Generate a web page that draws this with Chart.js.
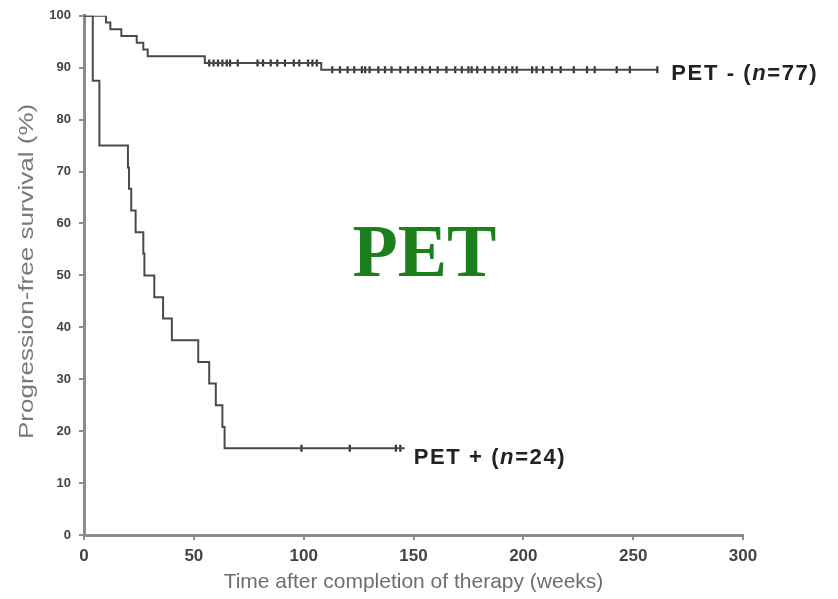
<!DOCTYPE html>
<html>
<head>
<meta charset="utf-8">
<script src="https://cdn.jsdelivr.net/npm/chart.js@4/dist/chart.umd.min.js"></script>
<style>
  html, body { margin: 0; padding: 0; background: #ffffff; }
  canvas { display: block; }
</style>
</head>
<body>
<canvas id="c" width="838" height="599"></canvas>
<script>
// ---- Data ----
const xTickValues = [0, 50, 100, 150, 200, 250, 300];
const yTickValues = [0, 10, 20, 30, 40, 50, 60, 70, 80, 90, 100];

// PET- (n=77): event times (weeks) and survival (%)
const petNegTimes = [0, 10, 12, 17, 24, 27, 29, 55, 108, 261];
const petNegSurv  = [100, 98.7, 97.4, 96.1, 94.8, 93.5, 92.2, 90.9, 89.6, 89.6];
const petNegCensor = [57, 59, 61, 63, 65, 66.5, 70, 79, 81.5, 85, 88, 91.5, 95.5, 98, 102, 104, 106,
  113, 116.5, 120, 123, 126.5, 128, 130, 134, 137, 140, 144, 147.5, 151, 154, 157.5, 161, 165, 169,
  172, 175, 176.5, 179, 182.5, 186, 189, 192, 195, 197, 204, 206, 209, 213, 217, 223, 229, 232.5,
  242.5, 248.5, 261];

// PET+ (n=24)
const petPosTimes = [0, 4, 7, 20, 20.5, 21.5, 23.5, 27, 27.5, 32, 36, 40, 52, 57, 60, 63, 64, 146];
const petPosSurv  = [100, 87.5, 75, 70.8, 66.7, 62.5, 58.3, 54.2, 50, 45.8, 41.7, 37.5, 33.3, 29.2, 25, 20.8, 16.7, 16.7];
const petPosCensor = [99, 121, 142, 144];

const seriesLabels = ['PET - (', 'n', '=77)'];
const seriesLabels2 = ['PET + (', 'n', '=24)'];
const centerText = 'PET';

// ---- helpers ----
function survAt(times, surv, t) {
  let v = surv[0];
  for (let i = 0; i < times.length; i++) if (times[i] <= t) v = surv[i];
  return v;
}
const toPts = (ts, ss) => ts.map((t, i) => ({ x: t, y: ss[i] }));
const censorPts = (cs, ts, ss) => cs.map(t => ({ x: t, y: survAt(ts, ss, t) }));

const lineColor = '#4a4a4a';
const axisColor = '#8c8c8c';

function drawRich(ctx, parts, x, y) {
  ctx.save();
  ctx.fillStyle = '#222';
  ctx.textBaseline = 'middle';
  ctx.textAlign = 'left';
  try { ctx.letterSpacing = '1.6px'; } catch (e) {}
  let cx = x;
  parts.forEach((p, i) => {
    ctx.font = (i === 1 ? 'italic bold ' : 'bold ') + '22px "Liberation Sans", Arial, sans-serif';
    ctx.fillText(p, cx, y);
    cx += ctx.measureText(p).width;
  });
  ctx.restore();
}

const labelPlugin = {
  id: 'labels',
  afterDraw(chart) {
    const { ctx, scales: { x, y } } = chart;
    const negEnd = petNegTimes[petNegTimes.length - 1];
    const negLvl = petNegSurv[petNegSurv.length - 1];
    drawRich(ctx, seriesLabels, x.getPixelForValue(negEnd) + 14, y.getPixelForValue(negLvl) + 4);
    const posEnd = petPosTimes[petPosTimes.length - 1];
    const posLvl = petPosSurv[petPosSurv.length - 1];
    drawRich(ctx, seriesLabels2, x.getPixelForValue(posEnd) + 9, y.getPixelForValue(posLvl) + 10);

    ctx.save();
    ctx.fillStyle = '#1b7f1b';
    ctx.font = 'bold 74px "Liberation Serif", "Times New Roman", serif';
    ctx.textAlign = 'center';
    ctx.textBaseline = 'middle';
    ctx.fillText(centerText, x.getPixelForValue(155), y.getPixelForValue(53.5));
    ctx.restore();

    ctx.save();
    ctx.fillStyle = '#7a7a7a';
    ctx.font = '20px "Liberation Sans", Arial, sans-serif';
    ctx.textAlign = 'center';
    ctx.textBaseline = 'middle';
    ctx.translate(27, (y.top + y.bottom) / 2 - 4);
    ctx.rotate(-Math.PI / 2);
    ctx.scale(1.3, 1);
    ctx.fillText('Progression-free survival (%)', 0, 0);
    ctx.restore();
  }
};

new Chart(document.getElementById('c'), {
  type: 'line',
  data: {
    datasets: [
      { data: toPts(petNegTimes, petNegSurv), stepped: 'before', borderColor: lineColor, borderWidth: 2, pointRadius: 0, fill: false },
      { data: toPts(petPosTimes, petPosSurv), stepped: 'before', borderColor: lineColor, borderWidth: 2, pointRadius: 0, fill: false },
      { data: censorPts(petNegCensor, petNegTimes, petNegSurv), showLine: false, pointStyle: 'line', pointRotation: 90,
        pointRadius: 3.5, pointBorderWidth: 2.2, pointBorderColor: '#333', pointBackgroundColor: '#333' },
      { data: censorPts(petPosCensor, petPosTimes, petPosSurv), showLine: false, pointStyle: 'line', pointRotation: 90,
        pointRadius: 3.5, pointBorderWidth: 2.2, pointBorderColor: '#333', pointBackgroundColor: '#333' }
    ]
  },
  options: {
    responsive: false,
    animation: false,
    layout: { padding: { top: 15, right: 95, left: 0, bottom: 0 } },
    plugins: { legend: { display: false }, tooltip: { enabled: false } },
    scales: {
      x: {
        type: 'linear', min: 0, max: 300,
        afterBuildTicks: s => { s.ticks = xTickValues.map(v => ({ value: v })); },
        afterFit: s => { s.height = 64; },
        border: { color: axisColor, width: 3 },
        grid: { drawOnChartArea: false, tickLength: 5, color: axisColor, lineWidth: 2 },
        ticks: { color: '#444', padding: 6, font: { size: 17, weight: 'bold', family: '"Liberation Sans", Arial, sans-serif' }, maxRotation: 0 },
        title: { display: true, text: 'Time after completion of therapy (weeks)', color: '#6e6e6e',
          font: { size: 21, family: '"Liberation Sans", Arial, sans-serif' }, padding: { top: 2, bottom: 4 } }
      },
      y: {
        type: 'linear', min: 0, max: 100,
        afterBuildTicks: s => { s.ticks = yTickValues.map(v => ({ value: v })); },
        afterFit: s => { s.width = 84; },
        border: { color: axisColor, width: 3 },
        grid: { drawOnChartArea: false, tickLength: 5, color: axisColor, lineWidth: 2 },
        ticks: { color: '#444', padding: 8, font: { size: 13, weight: 'bold', family: '"Liberation Sans", Arial, sans-serif' } }
      }
    }
  },
  plugins: [labelPlugin]
});
</script>
</body>
</html>
